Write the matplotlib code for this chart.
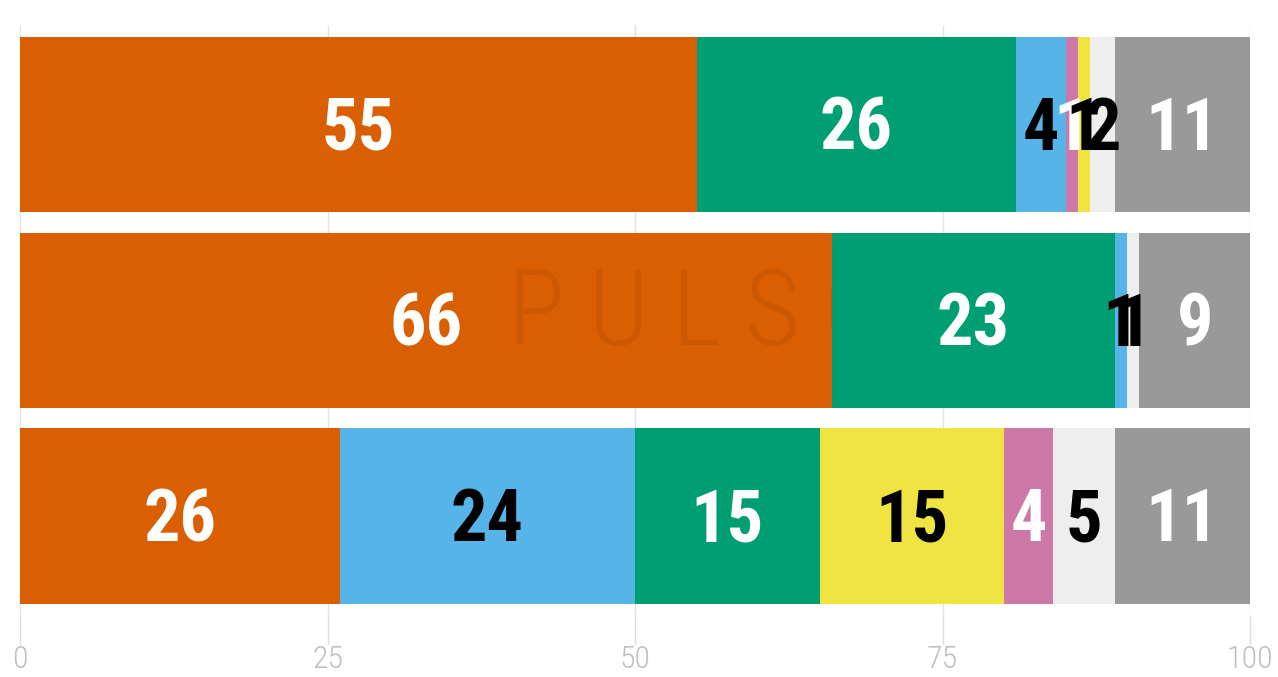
import matplotlib
matplotlib.use("Agg")
import matplotlib.pyplot as plt

# rows from top to bottom; each row is a list of (party, value) segments
row_parties = [
    ["A", "B", "C", "D", "E", "NS", "NR"],
    ["A", "B", "C", "NS", "NR"],
    ["A", "C", "B", "E", "D", "NS", "NR"],
]
row_values = [
    [55, 26, 4, 1, 1, 2, 11],
    [66, 23, 1, 1, 9],
    [26, 24, 15, 15, 4, 5, 11],
]
xticks = [0, 25, 50, 75, 100]

colors = {
    "A": "#D95F02",
    "B": "#009E73",
    "C": "#56B4E9",
    "D": "#CC79A7",
    "E": "#F0E442",
    "NS": "#EEEEEE",
    "NR": "#999999",
}
label_colors = {
    "A": "white", "B": "white", "C": "black", "D": "white",
    "E": "black", "NS": "black", "NR": "white",
}

label_font = ["Roboto Condensed", "Roboto", "DejaVu Sans"]
tick_font = ["Roboto Condensed", "Roboto", "DejaVu Sans"]

fig = plt.figure(figsize=(12.78, 6.77), dpi=100)
ax = fig.add_axes([0.0157, 0.0904, 0.9624, 0.873])

for i, (parties, values) in enumerate(zip(row_parties, row_values)):
    left = 0
    for j, (p, v) in enumerate(zip(parties, values)):
        # first segment sits under the watermark, the rest cover it
        z = 2 if j == 0 else 3
        ax.barh(i, v, left=left, height=0.895, color=colors[p], zorder=z)
        ax.text(left + v / 2, i + 0.03, str(v), ha="center", va="center",
                color=label_colors[p], fontsize=52, fontweight="bold",
                family=label_font, zorder=4)
        left += v

# faint watermark on the middle row
ax.text(55, 0.98, "P U L S O", ha="center", va="center", fontsize=76,
        color="black", alpha=0.06, family=tick_font, fontweight="light",
        zorder=2.5)

ax.set_xlim(0, 100)
ax.set_ylim(2.51, -0.51)
ax.set_xticks(xticks)
ax.set_xticklabels([str(t) for t in xticks], family=tick_font, fontsize=23,
                   color="#c0c0c0", fontweight="light")
ax.set_yticks([])
ax.tick_params(axis="x", length=20, width=1, color="#dddddd", pad=1)
ax.grid(axis="x", color="#e3e3e3", linewidth=1, zorder=0)
ax.set_axisbelow(True)
for s in ax.spines.values():
    s.set_visible(False)

fig.savefig("out.png", dpi=100)
